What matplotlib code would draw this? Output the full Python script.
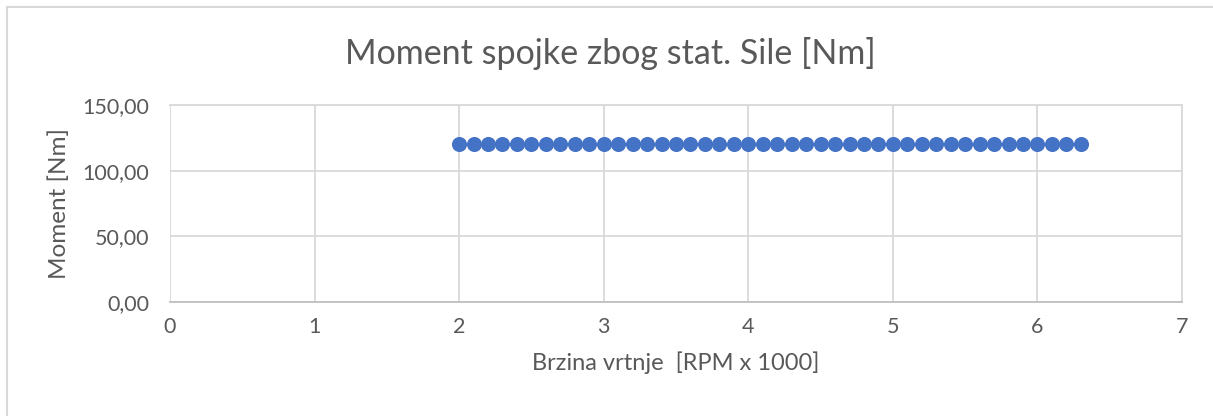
import numpy as np
import matplotlib.pyplot as plt
from matplotlib.lines import Line2D
from matplotlib.ticker import FuncFormatter

plt.rcParams['font.family'] = ['Lato', 'DejaVu Sans']

# brzina vrtnje [RPM x 1000] i moment [Nm]
brzina = [2.0, 2.1, 2.2, 2.3, 2.4, 2.5, 2.6, 2.7, 2.8, 2.9,
          3.0, 3.1, 3.2, 3.3, 3.4, 3.5, 3.6, 3.7, 3.8, 3.9,
          4.0, 4.1, 4.2, 4.3, 4.4, 4.5, 4.6, 4.7, 4.8, 4.9,
          5.0, 5.1, 5.2, 5.3, 5.4, 5.5, 5.6, 5.7, 5.8, 5.9,
          6.0, 6.1, 6.2, 6.3]
moment = [120.0] * len(brzina)

x_ticks = [0, 1, 2, 3, 4, 5, 6, 7]
y_ticks = [0, 50, 100, 150]

siva = '#595959'

fig = plt.figure(figsize=(12.13, 4.16), dpi=100)
ax = fig.add_axes([0.1401, 0.274, 0.8344, 0.4736])

ax.scatter(brzina, moment, s=118, color='#4472C4', zorder=3, linewidths=0)

ax.set_xlim(0, 7)
ax.set_ylim(0, 150)
ax.set_xticks(x_ticks)
ax.set_yticks(y_ticks)
ax.yaxis.set_major_formatter(FuncFormatter(lambda v, p: f'{v:.2f}'.replace('.', ',')))
ax.grid(True, color='#D9D9D9', linewidth=1.3)
ax.set_axisbelow(True)
for s in ax.spines.values():
    s.set_color('#D9D9D9')
    s.set_linewidth(1.3)
ax.spines['bottom'].set_color('#BFBFBF')
ax.spines['left'].set_visible(False)
ax.tick_params(length=0, labelsize=15.5, colors=siva)
ax.tick_params(axis='x', pad=11)
ax.tick_params(axis='y', pad=15)

fig.text(0.503, 1 - 53 / 416, 'Moment spojke zbog stat. Sile [Nm]',
         fontsize=24.5, color=siva, ha='center', va='center')
ax.set_xlabel('Brzina vrtnje  [RPM x 1000]', fontsize=17, color=siva, labelpad=10)
ax.set_ylabel('Moment [Nm]', fontsize=17.5, color=siva, labelpad=9)

# okvir oko grafikona (gornji i lijevi rub)
x0, y0 = 7 / 1213, 1 - 6.5 / 416
fig.lines.append(Line2D([x0, 1.01], [y0, y0], transform=fig.transFigure,
                        color='#D9D9D9', linewidth=1.5))
fig.lines.append(Line2D([x0, x0], [y0, -0.01], transform=fig.transFigure,
                        color='#D9D9D9', linewidth=1.5))

fig.savefig('out.png', dpi=100)
